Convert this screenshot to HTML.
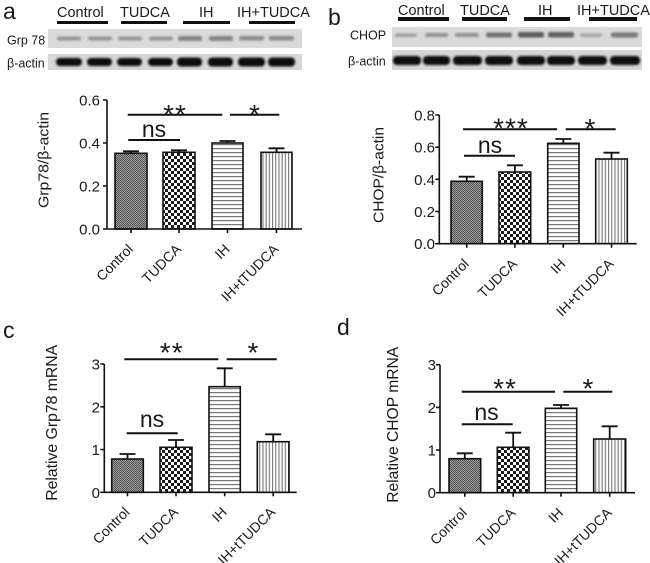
<!DOCTYPE html>
<html><head><meta charset="utf-8"><style>
html,body{margin:0;padding:0;background:#fff;}
svg{display:block;}
text{font-family:"Liberation Sans",Arial,sans-serif;fill:#1a1a1a;}
.tk{font-size:15px;text-anchor:end;}
.xl{font-size:14px;text-anchor:end;}
.st{font-size:28px;text-anchor:middle;}
.ns{font-size:23px;text-anchor:middle;}
.gl{font-size:14.5px;}
.bl{font-size:12.5px;}
.pl{font-size:23px;}
.ax{stroke:#111;stroke-width:1.6;fill:none;}
.bar{stroke:#111;stroke-width:1.6;}
.eb{stroke:#111;stroke-width:1.8;fill:none;}
.sg{stroke:#111;stroke-width:2;}
.ul{fill:#111;}
</style></head><body>
<svg width="650" height="563" viewBox="0 0 650 563" xmlns="http://www.w3.org/2000/svg">
<defs>
<pattern id="pC" width="2" height="2" patternUnits="userSpaceOnUse"><rect width="2" height="2" fill="#9a9a9a"/><rect width="1" height="1" fill="#555"/><rect x="1" y="1" width="1" height="1" fill="#555"/></pattern>
<pattern id="pT" width="6" height="6" patternUnits="userSpaceOnUse"><rect width="6" height="6" fill="#fff"/><rect width="3" height="3" fill="#1a1a1a"/><rect x="3" y="3" width="3" height="3" fill="#1a1a1a"/></pattern>
<pattern id="pH" width="4" height="4" patternUnits="userSpaceOnUse"><rect width="4" height="4" fill="#fff"/><rect width="4" height="1.2" fill="#777"/></pattern>
<pattern id="pV" width="3.2" height="4" patternUnits="userSpaceOnUse"><rect width="3.2" height="4" fill="#fff"/><rect width="1.1" height="4" fill="#777"/></pattern>
<filter id="bl" x="-20%" y="-50%" width="140%" height="200%"><feGaussianBlur stdDeviation="1"/></filter>
</defs>
<rect width="650" height="563" fill="#fff"/>

<!-- ============ PANEL A BLOT ============ -->
<text class="pl" x="3" y="19">a</text>
<text class="gl" x="57" y="17">Control</text>
<text class="gl" x="120" y="17">TUDCA</text>
<text class="gl" x="199" y="17">IH</text>
<text class="gl" x="237" y="17">IH+TUDCA</text>
<rect class="ul" x="57" y="21" width="51" height="3"/>
<rect class="ul" x="121" y="21" width="46" height="3"/>
<rect class="ul" x="183" y="21" width="47" height="3"/>
<rect class="ul" x="249" y="21" width="46" height="3"/>
<text class="bl" x="7" y="44.5">Grp 78</text>
<text class="bl" x="7" y="67.5">β-actin</text>
<rect x="48" y="29" width="254" height="19" fill="#dadada"/>
<rect x="48" y="54" width="254" height="16" fill="#d6d6d6"/>
<g filter="url(#bl)" fill="#777">
<rect x="57" y="36.5" width="24" height="4" rx="2" opacity="0.7"/>
<rect x="88" y="36.5" width="24" height="4" rx="2" opacity="0.7"/>
<rect x="118" y="36.5" width="24" height="4" rx="2" opacity="0.7"/>
<rect x="149" y="36.5" width="24" height="4" rx="2" opacity="0.7"/>
<rect x="178" y="36" width="24" height="5" rx="2" opacity="0.85"/>
<rect x="209" y="36" width="24" height="5" rx="2" opacity="0.85"/>
<rect x="239" y="36" width="25" height="4.5" rx="2" opacity="0.8"/>
<rect x="269" y="36" width="25" height="4.5" rx="2" opacity="0.8"/>
</g>
<g filter="url(#bl)" fill="#111">
<rect x="56" y="58" width="26" height="8" rx="4"/>
<rect x="87" y="58" width="25" height="8" rx="4"/>
<rect x="117" y="58" width="25" height="8" rx="4"/>
<rect x="148" y="58" width="25" height="8" rx="4"/>
<rect x="177" y="57.5" width="25" height="9" rx="4"/>
<rect x="208" y="57.5" width="25" height="9" rx="4"/>
<rect x="238" y="57.5" width="27" height="9" rx="4"/>
<rect x="268" y="57.5" width="27" height="9" rx="4"/>
</g>

<!-- ============ PANEL B BLOT ============ -->
<text class="pl" x="328" y="25">b</text>
<text class="gl" x="398" y="15">Control</text>
<text class="gl" x="460" y="15">TUDCA</text>
<text class="gl" x="538" y="15">IH</text>
<text class="gl" x="577" y="15">IH+TUDCA</text>
<rect class="ul" x="398" y="17" width="51" height="4"/>
<rect class="ul" x="462" y="17" width="45" height="4"/>
<rect class="ul" x="524" y="17" width="46" height="4"/>
<rect class="ul" x="589" y="17" width="48" height="4"/>
<text class="bl" x="350" y="39.5">CHOP</text>
<text class="bl" x="348" y="65.5">β-actin</text>
<rect x="392" y="27" width="250" height="20" fill="#dadada"/>
<rect x="392" y="50" width="250" height="20" fill="#d6d6d6"/>
<g filter="url(#bl)" fill="#555">
<rect x="395" y="33.5" width="22" height="3.5" rx="2" opacity="0.45"/>
<rect x="425" y="33" width="23" height="4" rx="2" opacity="0.55"/>
<rect x="455" y="33" width="24" height="4" rx="2" opacity="0.55"/>
<rect x="486" y="32.5" width="26" height="5" rx="2" opacity="0.8"/>
<rect x="518" y="32" width="26" height="5.5" rx="2" opacity="0.95"/>
<rect x="548" y="32" width="26" height="5.5" rx="2" opacity="0.9"/>
<rect x="580" y="33.5" width="22" height="3.5" rx="2" opacity="0.4"/>
<rect x="611" y="32.5" width="27" height="5" rx="2" opacity="0.75"/>
</g>
<g filter="url(#bl)" fill="#111">
<rect x="393" y="56" width="28" height="9" rx="4"/>
<rect x="423" y="56" width="27" height="9" rx="4"/>
<rect x="453" y="56" width="29" height="9" rx="4"/>
<rect x="485" y="56" width="28" height="9" rx="4"/>
<rect x="517" y="56" width="28" height="9" rx="4"/>
<rect x="547" y="56" width="28" height="9" rx="4"/>
<rect x="578" y="56" width="29" height="9" rx="4"/>
<rect x="610" y="56" width="30" height="9" rx="4"/>
</g>

<!-- ============ PANEL A CHART ============ -->
<text font-size="15" text-anchor="middle" transform="translate(48.5,160) rotate(-90)" textLength="96" lengthAdjust="spacingAndGlyphs">Grp78/β-actin</text>
<rect class="bar" x="115" y="153.3" width="32" height="75.7" fill="url(#pC)"/>
<rect class="bar" x="163" y="152.3" width="32" height="76.7" fill="url(#pT)"/>
<rect class="bar" x="212" y="143" width="31" height="86" fill="url(#pH)"/>
<rect class="bar" x="261" y="152.3" width="31" height="76.7" fill="url(#pV)"/>
<path class="eb" d="M131 151.3V153.3M123 151.3H139M179 150.3V152.3M171 150.3H187M227.5 141V143M219.5 141H235.5M276.5 148.3V152.3M268.5 148.3H284.5"/>
<path class="ax" d="M107 100V229H302M103 229H107M103 186H107M103 143H107M103 100H107M131 229V233M179 229V233M227.5 229V233M276.5 229V233"/>
<text class="tk" x="100" y="234.5">0.0</text>
<text class="tk" x="100" y="191.5">0.2</text>
<text class="tk" x="100" y="148.5">0.4</text>
<text class="tk" x="100" y="105.5">0.6</text>
<text class="xl" transform="translate(134,250) rotate(-45)">Control</text>
<text class="xl" transform="translate(182,250) rotate(-45)">TUDCA</text>
<text class="xl" transform="translate(230.5,250) rotate(-45)">IH</text>
<text class="xl" transform="translate(279.5,250) rotate(-45)">IH+tTUDCA</text>
<line class="sg" x1="127.7" y1="114.7" x2="222.3" y2="114.7"/>
<line class="sg" x1="230" y1="114.7" x2="279.3" y2="114.7"/>
<line class="sg" x1="128.3" y1="140" x2="180" y2="140"/>
<text class="st" x="175" y="124" letter-spacing="1">**</text>
<text class="st" x="254.5" y="124">*</text>
<text class="ns" x="154" y="137" font-size="22">ns</text>

<!-- ============ PANEL B CHART ============ -->
<text font-size="15" text-anchor="middle" transform="translate(383.3,175) rotate(-90)" textLength="96" lengthAdjust="spacingAndGlyphs">CHOP/β-actin</text>
<rect class="bar" x="451" y="181.3" width="31.3" height="62.4" fill="url(#pC)"/>
<rect class="bar" x="499" y="172" width="31.7" height="71.7" fill="url(#pT)"/>
<rect class="bar" x="547.7" y="143.3" width="31.3" height="100.4" fill="url(#pH)"/>
<rect class="bar" x="595.7" y="159" width="31.6" height="84.7" fill="url(#pV)"/>
<path class="eb" d="M466.7 176.7V181.3M458.7 176.7H474.7M514.9 165.3V172M506.9 165.3H522.9M563.3 139V143.3M555.3 139H571.3M611.5 152.7V159M603.5 152.7H619.5"/>
<path class="ax" d="M439.3 115V243.7H636.7M435.3 243.7H439.3M435.3 211.5H439.3M435.3 179.3H439.3M435.3 147.2H439.3M435.3 115H439.3M466.7 243.7V247.7M514.9 243.7V247.7M563.3 243.7V247.7M611.5 243.7V247.7"/>
<text class="tk" x="435" y="249.2">0.0</text>
<text class="tk" x="435" y="217">0.2</text>
<text class="tk" x="435" y="184.8">0.4</text>
<text class="tk" x="435" y="152.7">0.6</text>
<text class="tk" x="435" y="120.5">0.8</text>
<text class="xl" transform="translate(469.7,264.7) rotate(-45)">Control</text>
<text class="xl" transform="translate(517.9,264.7) rotate(-45)">TUDCA</text>
<text class="xl" transform="translate(566.3,264.7) rotate(-45)">IH</text>
<text class="xl" transform="translate(614.5,264.7) rotate(-45)">IH+tTUDCA</text>
<line class="sg" x1="463" y1="129.3" x2="557" y2="129.3"/>
<line class="sg" x1="565.7" y1="129.3" x2="615.7" y2="129.3"/>
<line class="sg" x1="464" y1="155.7" x2="515" y2="155.7"/>
<text class="st" x="511" y="137.7" letter-spacing="1">***</text>
<text class="st" x="590" y="138">*</text>
<text class="ns" x="490" y="153" font-size="25">ns</text>

<!-- ============ PANEL C ============ -->
<text class="pl" x="3" y="338">c</text>
<text font-size="16" text-anchor="middle" transform="translate(57,422.8) rotate(-90)" textLength="156" lengthAdjust="spacingAndGlyphs">Relative Grp78 mRNA</text>
<rect class="bar" x="111.7" y="459" width="31.6" height="33.3" fill="url(#pC)"/>
<rect class="bar" x="160" y="447.3" width="32" height="45" fill="url(#pT)"/>
<rect class="bar" x="209" y="386.7" width="31.3" height="105.6" fill="url(#pH)"/>
<rect class="bar" x="257.3" y="441.7" width="31.7" height="50.6" fill="url(#pV)"/>
<path class="eb" d="M127.5 454V459M119.5 454H135.5M176 440V447.3M168 440H184M224.7 368.3V386.7M216.7 368.3H232.7M273.2 434.3V441.7M265.2 434.3H281.2"/>
<path class="ax" d="M104.3 364V492.3H296.7M100.3 492.3H104.3M100.3 449.5H104.3M100.3 406.8H104.3M100.3 364H104.3M127.5 492.3V496.3M176 492.3V496.3M224.7 492.3V496.3M273.2 492.3V496.3"/>
<text class="tk" x="100" y="497.8">0</text>
<text class="tk" x="100" y="455">1</text>
<text class="tk" x="100" y="412.3">2</text>
<text class="tk" x="100" y="369.5">3</text>
<text class="xl" transform="translate(130.5,513) rotate(-45)">Control</text>
<text class="xl" transform="translate(179,513) rotate(-45)">TUDCA</text>
<text class="xl" transform="translate(227.7,513) rotate(-45)">IH</text>
<text class="xl" transform="translate(276.2,513) rotate(-45)">IH+tTUDCA</text>
<line class="sg" x1="124.3" y1="359.3" x2="218.3" y2="359.3"/>
<line class="sg" x1="226.7" y1="359.3" x2="276.7" y2="359.3"/>
<line class="sg" x1="126.7" y1="433.3" x2="177.7" y2="433.3"/>
<text class="st" x="171.7" y="362" letter-spacing="1">**</text>
<text class="st" x="253" y="362">*</text>
<text class="ns" x="152" y="427" font-size="24">ns</text>

<!-- ============ PANEL D ============ -->
<text class="pl" x="337" y="335">d</text>
<text font-size="16" text-anchor="middle" transform="translate(398,424.8) rotate(-90)" textLength="156" lengthAdjust="spacingAndGlyphs">Relative CHOP mRNA</text>
<rect class="bar" x="449" y="458.7" width="31.7" height="34" fill="url(#pC)"/>
<rect class="bar" x="497.3" y="447.3" width="31.7" height="45.4" fill="url(#pT)"/>
<rect class="bar" x="545.3" y="408.3" width="31.4" height="84.4" fill="url(#pH)"/>
<rect class="bar" x="593.7" y="439" width="32" height="53.7" fill="url(#pV)"/>
<path class="eb" d="M464.8 453.3V458.7M456.8 453.3H472.8M513.2 432.7V447.3M505.2 432.7H521.2M561 405V408.3M553 405H569M609.7 426.3V439M601.7 426.3H617.7"/>
<path class="ax" d="M440 364.7V492.7H635M436 492.7H440M436 450H440M436 407.4H440M436 364.7H440M464.8 492.7V496.7M513.2 492.7V496.7M561 492.7V496.7M609.7 492.7V496.7"/>
<text class="tk" x="436" y="498.2">0</text>
<text class="tk" x="436" y="455.5">1</text>
<text class="tk" x="436" y="412.9">2</text>
<text class="tk" x="436" y="370.2">3</text>
<text class="xl" transform="translate(467.8,513.7) rotate(-45)">Control</text>
<text class="xl" transform="translate(516.2,513.7) rotate(-45)">TUDCA</text>
<text class="xl" transform="translate(564,513.7) rotate(-45)">IH</text>
<text class="xl" transform="translate(612.7,513.7) rotate(-45)">IH+tTUDCA</text>
<line class="sg" x1="461.7" y1="391.7" x2="555" y2="391.7"/>
<line class="sg" x1="563.3" y1="391.7" x2="612.3" y2="391.7"/>
<line class="sg" x1="461.7" y1="424.3" x2="512.7" y2="424.3"/>
<text class="st" x="505" y="398" letter-spacing="1">**</text>
<text class="st" x="588" y="398">*</text>
<text class="ns" x="486.5" y="420" font-size="25">ns</text>
</svg>
</body></html>
